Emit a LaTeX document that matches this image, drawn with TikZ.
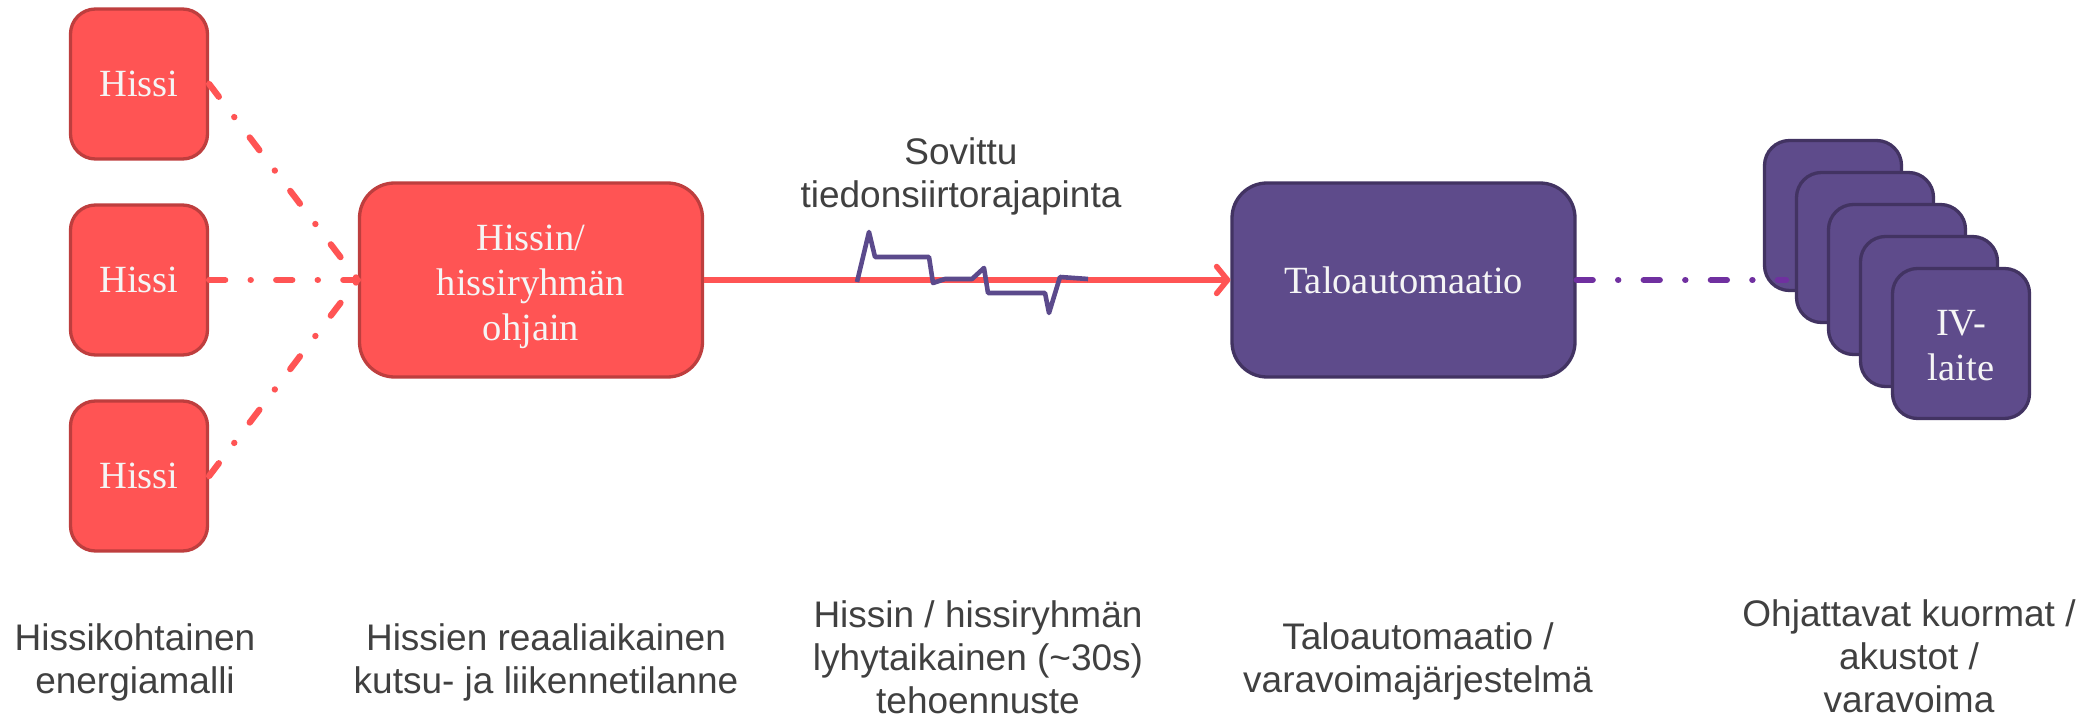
\documentclass[tikz,border=0pt]{standalone}
\usepackage{fontspec}
\setmainfont{Liberation Serif}
\newfontfamily\labsans{Liberation Sans}
\usetikzlibrary{arrows.meta}
\definecolor{redfill}{RGB}{255,84,84}
\definecolor{redline}{RGB}{190,62,62}
\definecolor{purfill}{RGB}{94,75,139}
\definecolor{purline}{RGB}{66,51,98}
\definecolor{purdash}{RGB}{112,48,160}
\definecolor{wavecol}{RGB}{91,74,140}
\definecolor{labgray}{RGB}{64,64,64}
\definecolor{boxtext}{RGB}{245,245,245}
\begin{document}
\begin{tikzpicture}[x=1pt,y=-1pt,
  redbox/.style={draw=redline, fill=redfill, line width=3.3pt, text=boxtext, font=\fontsize{38.5}{45}\selectfont, align=center, inner sep=0pt},
  purbox/.style={draw=purline, fill=purfill, line width=3.3pt, text=boxtext, font=\fontsize{38.5}{45}\selectfont, align=center, inner sep=0pt},
  boxlabel/.style={text=boxtext, font=\fontsize{38.5}{45}\selectfont, align=center, inner sep=0pt, anchor=base},
  smallbox/.style={minimum width=137pt, minimum height=150pt, rounded corners=25pt},
  bigbox/.style={minimum width=343pt, minimum height=194pt, rounded corners=35pt},
  lab/.style={text=labgray, font=\labsans\fontsize{37}{43}\selectfont, align=center, anchor=base, inner sep=0pt},
  reddash/.style={draw=redfill, line width=6.3pt, line cap=round, dash pattern=on 16pt off 25.5pt on 0.1pt off 25.5pt},
  purdashline/.style={draw=purdash, line width=6.3pt, line cap=round, dash pattern=on 16pt off 25.5pt on 0.1pt off 25.5pt},
  arrowline/.style={draw=redfill, line width=5.5pt, -{Straight Barb[length=11pt,width=27pt,round]}},
  waveline/.style={draw=wavecol, line width=4.6pt, line join=round},
]
\useasboundingbox (0,0) rectangle (2092,719);

% elevators
\node[redbox, smallbox] (h1) at (139,84) {Hissi};
\node[redbox, smallbox] (h2) at (139,280) {Hissi};
\node[redbox, smallbox] (h3) at (139,476) {Hissi};

% controller
\node[redbox, bigbox] (ctrl) at (531,280) {};
\node[boxlabel] (ctrltext) at (531,340) {Hissin/\\hissiryhmän\\ohjain};

% building automation
\node[purbox, bigbox] (talo) at (1403.5,280) {Taloautomaatio};

% connectors from elevators
\draw[reddash] (h1.east) -- (ctrl.west);
\draw[reddash] (h2.east) -- (ctrl.west);
\draw[reddash] (h3.east) -- (ctrl.west);

% interface arrow
\draw[arrowline] (ctrl.east) -- (talo.west);

% waveform
\draw[waveline] (857,282) -- (869,232) -- (875,257) -- (929,257) -- (933,283) -- (945,279) -- (972,279) -- (984,268) -- (988,293) -- (1045,293) -- (1049,313) -- (1060,277) -- (1088,279);

\node[lab] (sov) at (961,208) {Sovittu\\tiedonsiirtorajapinta};

% stacked devices
\node[purbox, smallbox] (s1) at (1833,215.5) {};
\coordinate (pend) at (1786,280);
\draw[purdashline] (talo.east) -- (pend);
\node[purbox, smallbox] (s2) at (1865,247.5) {};
\node[purbox, smallbox] (s3) at (1897,279.5) {};
\node[purbox, smallbox] (s4) at (1929,311.5) {};
\node[purbox, smallbox] (s5) at (1961,343.5) {};
\node[boxlabel] (s5text) at (1961,380) {IV-\\laite};

% bottom labels
\node[lab] (l1) at (135,693) {Hissikohtainen\\energiamalli};
\node[lab] (l2) at (546,693) {Hissien reaaliaikainen\\kutsu- ja liikennetilanne};
\node[lab] (l3) at (978,713) {Hissin / hissiryhmän\\lyhytaikainen (\textasciitilde30s)\\tehoennuste};
\node[lab] (l4) at (1418,692) {Taloautomaatio /\\varavoimajärjestelmä};
\node[lab] (l5) at (1909,712) {Ohjattavat kuormat /\\akustot /\\varavoima};
\end{tikzpicture}
\end{document}
